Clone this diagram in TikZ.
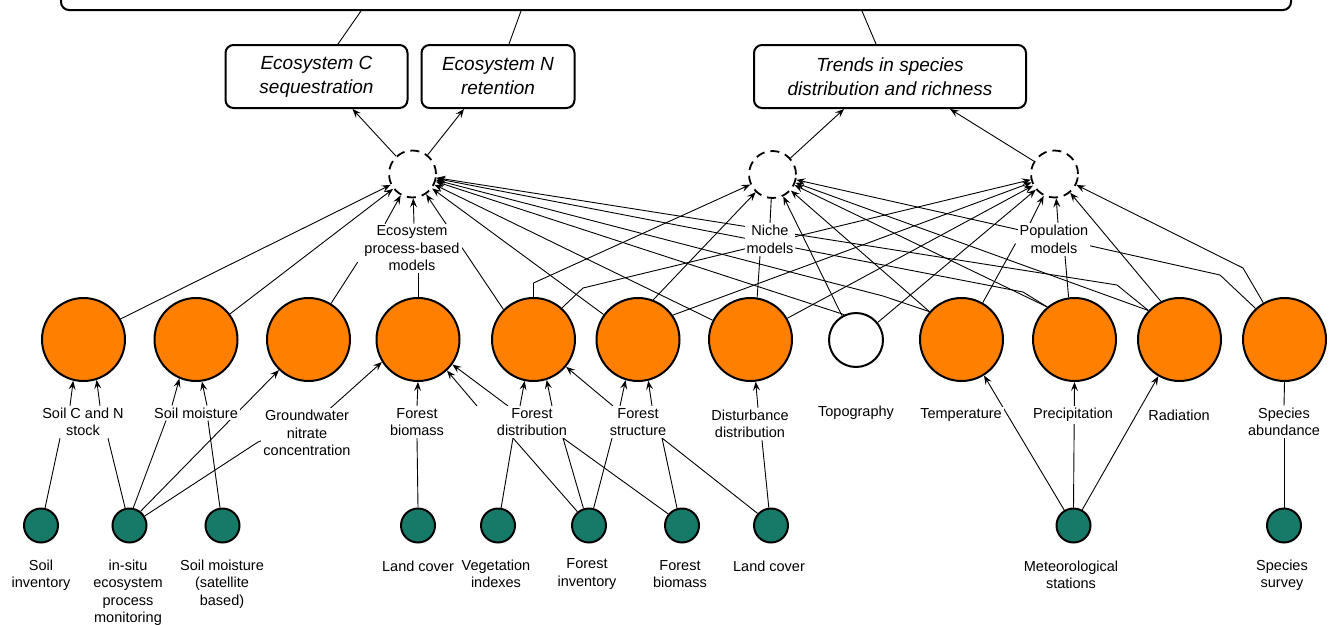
\documentclass[tikz,border=0pt]{standalone}
\usepackage{fontspec}
\setmainfont{Liberation Sans}
\usetikzlibrary{arrows.meta,backgrounds,calc}

\definecolor{orng}{RGB}{255,128,0}
\definecolor{tealg}{RGB}{23,122,104}

\begin{document}
\begin{tikzpicture}[x=1pt,y=-1pt,
  every node/.style={font=\fontsize{14.5}{17.5}\selectfont},
  var/.style={circle,draw,line width=2pt,fill=orng,minimum size=83pt,inner sep=0pt},
  obs/.style={circle,draw,line width=2pt,fill=tealg,minimum size=34pt,inner sep=0pt},
  model/.style={circle,draw,line width=1.8pt,dash pattern=on 9pt off 6pt,minimum size=47pt,inner sep=0pt},
  goal/.style={draw,line width=2pt,rounded corners=8pt,align=center,inner sep=0pt,
    font=\fontsize{19}{24}\selectfont\itshape},
  lbl/.style={fill=white,align=center,inner sep=2pt},
  link/.style={line width=0.9pt},
  arr/.style={link,-{Stealth[length=9pt,width=7pt,inset=3.5pt]}},
]
\useasboundingbox (0,0) rectangle (1333,624);
\clip (0,0) rectangle (1333,624);

% goal boxes
\node[goal,minimum width=1230pt,minimum height=80pt] (top) at (676,-30) {};
\node[goal,minimum width=182pt,minimum height=63pt] (gC) at (316.5,76.5) {Ecosystem C\\sequestration};
\node[goal,minimum width=153pt,minimum height=63pt] (gN) at (498,76.5) {Ecosystem N\\retention};
\node[goal,minimum width=272pt,minimum height=63pt] (gT) at (890,76.5) {Trends in species\\distribution and richness};

% model nodes
\node[model] (eco) at (412.5,174) {};
\node[model] (niche) at (772.5,174.5) {};
\node[model] (pop) at (1054.5,174) {};
\node[lbl] (ecoL) at (412,248.5) {Ecosystem\\process-based\\models};
\node[lbl] (nicheL) at (770,239.5) {Niche\\models};
\node[lbl] (popL) at (1054,239.5) {Population\\models};

% variables
\node[var] (c1) at (83.5,339.5) {};
\node[var] (c2) at (196,339.5) {};
\node[var] (c3) at (308.5,339.5) {};
\node[var] (c4) at (418,339.5) {};
\node[var] (c5) at (533.5,339.5) {};
\node[var] (c6) at (638,339.5) {};
\node[var] (c7) at (750.5,339.5) {};
\node[circle,draw,line width=2pt,fill=white,minimum size=54pt,inner sep=0pt] (topo) at (856,340) {};
\node[var] (c9) at (961.5,339.5) {};
\node[var] (c10) at (1074.5,339.5) {};
\node[var] (c11) at (1179.5,339.5) {};
\node[var] (c12) at (1284.5,339.5) {};

\node[lbl] (lSoilC) at (83,422) {Soil C and N\\stock};
\node[lbl] (lSoilM) at (196,413) {Soil moisture};
\node[lbl] (lGw) at (307,433) {Groundwater\\nitrate\\concentration};
\node[lbl] (lFBio) at (417,422) {Forest\\biomass};
\node[lbl] (lFDist) at (532,422) {Forest\\distribution};
\node[lbl] (lFStr) at (638,422) {Forest\\structure};
\node[lbl] (lDist) at (750,424) {Disturbance\\distribution};
\node[lbl] (lTopo) at (856,413) {Topography};
\node[lbl] (lTemp) at (961,415) {Temperature};
\node[lbl] (lPrec) at (1073,415) {Precipitation};
\node[lbl] (lRad) at (1179,415) {Radiation};
\node[lbl] (lSpAb) at (1284,422) {Species\\abundance};

% observations
\node[obs] (g1) at (41,525.5) {};
\node[obs] (g2) at (129.5,525.5) {};
\node[obs] (g3) at (222.5,525.5) {};
\node[obs] (g4) at (418,525.5) {};
\node[obs] (g5) at (498,525.5) {};
\node[obs] (g6) at (589,525.5) {};
\node[obs] (g7) at (682,525.5) {};
\node[obs] (g8) at (771,525.5) {};
\node[obs] (g9) at (1073.5,525.5) {};
\node[obs] (g10) at (1284,525.5) {};

\node[lbl] (o1) at (41,575) {Soil\\inventory};
\node[lbl] (o2) at (128,592.5) {in-situ\\ecosystem\\process\\monitoring};
\node[lbl] (o3) at (222,584) {Soil moisture\\(satellite\\based)};
\node[lbl] (o4) at (418,566) {Land cover};
\node[lbl] (o5) at (496,574) {Vegetation\\indexes};
\node[lbl] (o6) at (587,574) {Forest\\inventory};
\node[lbl] (o7) at (680,574) {Forest\\biomass};
\node[lbl] (o8) at (769,566) {Land cover};
\node[lbl] (o9) at (1071,575) {Meteorological\\stations};
\node[lbl] (o10) at (1282,575) {Species\\survey};

\begin{scope}[on background layer]
% goals
\draw[link] ([xshift=-315pt]top.south) -- ([xshift=21.5pt]gC.north);
\draw[link] ([xshift=-155pt]top.south) -- ([xshift=11pt]gN.north);
\draw[link] ([xshift=186pt]top.south) -- ([xshift=-14pt]gT.north);
\draw[arr] (eco) -- ([xshift=36pt]gC.south);
\draw[arr] (eco) -- ([xshift=-34pt]gN.south);
\draw[arr] (niche) -- ([xshift=-46pt]gT.south);
\draw[arr] (pop) -- ([xshift=60pt]gT.south);

% model labels
\draw[arr] ([xshift=-27pt]ecoL.north) -- (eco);
\draw[arr] ([xshift=2pt]ecoL.north) -- (eco);
\draw[link] (c3.58) -- ([xshift=-4.5pt,yshift=-13.5pt]ecoL.west);
\draw[link] (c4.north) -- (c4.north |- ecoL.south);
\draw[link] (nicheL.north) -- (niche);
\draw[link] (c7.81) -- ([xshift=-10pt]nicheL.south);
\draw[arr] ([xshift=-24pt]popL.north) -- (pop);
\draw[arr] ([xshift=4pt]popL.north) -- (pop);
\draw[link] (c9.60) -- ([xshift=-2pt,yshift=-4pt]popL.west);
\draw[link] (c10.98) -- ([xshift=11pt]popL.south);

% ecosystem model inputs
\draw[arr] (c1.29) -- (eco);
\draw[arr] (c2.37) -- (eco);
\draw[arr] (c5.135) -- (eco);
\draw[arr] (c6.144) -- (eco);
\draw[arr] (c7.153) -- (eco);
\draw[arr] (topo.115) -- (eco);
\draw[arr] (c9.139) -- (883,296) -- (eco);
\draw[arr] (c10.130) -- (1023,292) -- (eco);
\draw[arr] (c11.137) -- (1117,285) -- (eco);

% niche model inputs
\draw[arr] (c5.north) -- ++(0,-14) -- (niche);
\draw[arr] (c6.69) -- (niche);
\draw[arr] (topo.120) -- (niche);
\draw[arr] (c9.139) -- (niche);
\draw[arr] (c10.130) -- (niche);
\draw[arr] (c11.137) -- (niche);
\draw[arr] (c12.133) -- (1220,275) -- (niche);

% population model inputs
\draw[arr] (c5.48) -- (583,288) -- (pop);
\draw[arr] (c6.35) -- (pop);
\draw[arr] (c7.30) -- (pop);
\draw[arr] (topo.39) -- (pop);
\draw[arr] (c11.116) -- (pop);
\draw[arr] (c12.120) -- (1243,268) -- (pop);

% variable labels to variables
\draw[arr] ([xshift=-13pt]lSoilC.north) -- (c1.256);
\draw[arr] ([xshift=17pt]lSoilC.north) -- (c1.288);
\draw[arr] ([xshift=-24pt]lSoilM.north) -- (c2.247);
\draw[arr] ([xshift=11pt]lSoilM.north) -- (c2.278);
\draw[arr] (lFBio.north) -- (c4.south);
\draw[arr] ([xshift=-24pt]lFDist.north) -- (c4.324);
\draw[arr] ([xshift=-55pt]lFDist.north) -- (c4.313);
\draw[arr] ([xshift=-12pt]lFDist.north) -- (c5.258);
\draw[arr] ([xshift=20pt]lFDist.north) -- (c5.288);
\draw[arr] ([xshift=-25pt]lFStr.north) -- (c5.320);
\draw[arr] ([xshift=-18pt]lFStr.north) -- (c6.253);
\draw[arr] ([xshift=14pt]lFStr.north) -- (c6.284);
\draw[arr] ([xshift=8pt]lDist.north) -- (c7.277);
\draw[link] (c12.south) -- (lSpAb.north);

% observations to variables
\draw[link] (g1.77) -- ([xshift=-23pt]lSoilC.south);
\draw[link] (g2.104) -- ([xshift=25pt]lSoilC.south);
\draw[link] (g2.78) -- ([xshift=-30pt]lSoilM.south);
\draw[arr] (g2.52) -- (c3.226);
\draw[arr] (g2.32) -- (258,442) -- (315,422) -- (c4.212);
\draw[link] (g3.98) -- ([xshift=12pt]lSoilM.south);
\draw[link] (g4.north) -- (lFBio.south);
\draw[link] (g5.80) -- ([xshift=-19pt]lFDist.south);
\draw[link] (g6.130) -- ([xshift=-19pt]lFDist.south);
\draw[link] (g6.108) -- ([xshift=31pt]lFDist.south);
\draw[link] (g7.140) -- ([xshift=31pt]lFDist.south);
\draw[link] (g6.75) -- ([xshift=-26pt]lFStr.south);
\draw[link] (g7.106) -- ([xshift=24pt]lFStr.south);
\draw[link] (g8.138) -- ([xshift=24pt]lFStr.south);
\draw[link] (g8.97) -- ([xshift=12pt]lDist.south);
\draw[arr] (g9.121) -- (c9.302);
\draw[arr] (g9.north) -- (c10.south);
\draw[arr] (g9.61) -- (c11.240);
\draw[link] (g10.north) -- (lSpAb.south);
\end{scope}
\end{tikzpicture}
\end{document}
